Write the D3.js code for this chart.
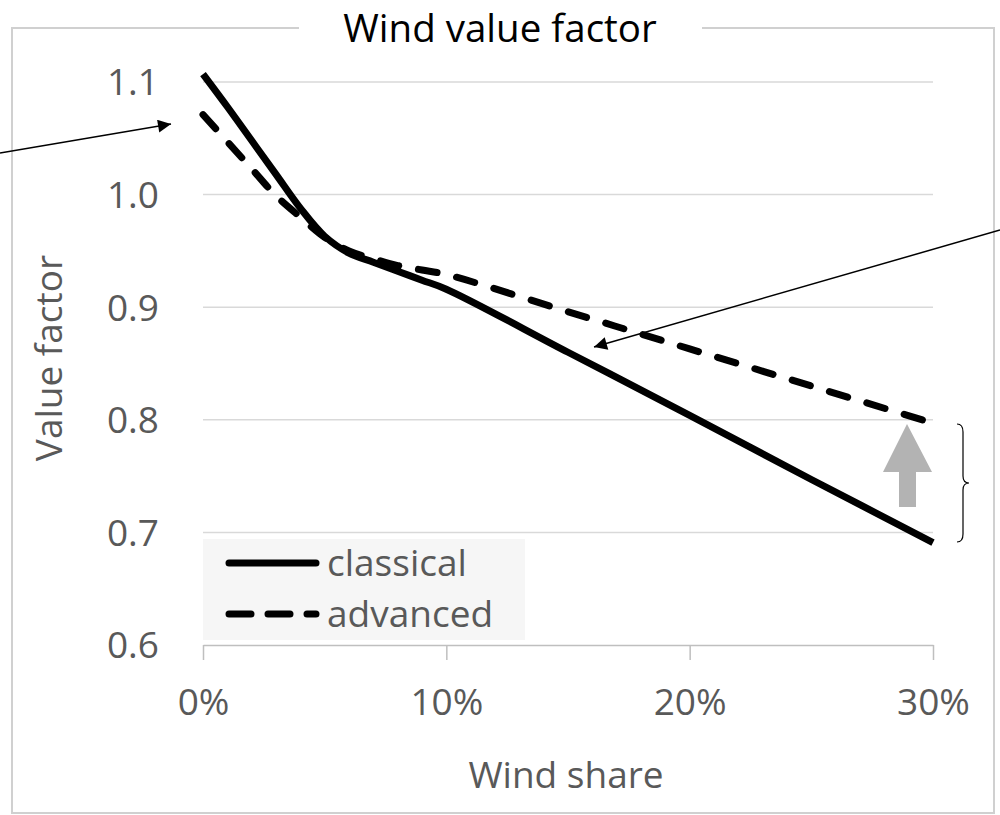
<!DOCTYPE html>
<html>
<head>
<meta charset="utf-8">
<script src="https://cdn.jsdelivr.net/npm/d3@7"></script>
<style>
  body { margin: 0; background: #fff; }
  text { font-family: "Open Sans", sans-serif; }
</style>
</head>
<body>
<div id="chart"></div>
<script>
// wind share (%) and value factors
const share = [0, 1, 2, 3, 4, 5, 6, 7, 8, 9, 10, 15, 20, 25, 30];
const classical = [1.107, 1.078, 1.048, 1.018, 0.988, 0.963, 0.948, 0.940, 0.932, 0.924, 0.916, 0.860, 0.804, 0.747, 0.691];
const advanced = [1.071, 1.047, 1.023, 0.999, 0.980, 0.962, 0.950, 0.943, 0.937, 0.933, 0.929, 0.896, 0.863, 0.830, 0.797];
const yTicks = [0.6, 0.7, 0.8, 0.9, 1.0, 1.1];
const xTicks = [0, 10, 20, 30];
const seriesNames = ["classical", "advanced"];

const W = 1000, H = 815;
const svg = d3.select("#chart").append("svg")
  .attr("width", W).attr("height", H);

const x = d3.scaleLinear().domain([0, 30]).range([203, 933]);
const y = d3.scaleLinear().domain([0.6, 1.1]).range([645, 82]);

// outer frame
svg.append("rect")
  .attr("x", 12).attr("y", 28).attr("width", 982).attr("height", 785)
  .attr("fill", "none").attr("stroke", "#d0d0d0").attr("stroke-width", 2);

// title sits on the frame
svg.append("rect")
  .attr("x", 299).attr("y", 20).attr("width", 403).attr("height", 20)
  .attr("fill", "#fff");
svg.append("text")
  .attr("x", 500).attr("y", 42)
  .attr("text-anchor", "middle")
  .style("font-size", "38.5px").attr("fill", "#000")
  .text("Wind value factor");

// gridlines
svg.append("g").selectAll("line")
  .data(yTicks.slice(1))
  .join("line")
  .attr("x1", x(0)).attr("x2", x(30))
  .attr("y1", d => y(d)).attr("y2", d => y(d))
  .attr("stroke", "#d9d9d9").attr("stroke-width", 1.5);

// y axis labels
svg.append("g").selectAll("text")
  .data(yTicks)
  .join("text")
  .attr("x", 159).attr("y", d => y(d))
  .attr("dy", "0.36em")
  .attr("text-anchor", "end")
  .style("font-size", "37px").attr("fill", "#595959")
  .text(d => d.toFixed(1));

// x axis
const xAxis = svg.append("g").attr("transform", `translate(0,${y(0.6)})`)
  .call(d3.axisBottom(x).tickValues(xTicks).tickSize(15).tickSizeOuter(0).tickFormat(d => d + "%"));
xAxis.select(".domain").attr("stroke", "#bfbfbf").attr("stroke-width", 1.5);
xAxis.selectAll(".tick line").attr("stroke", "#bfbfbf").attr("stroke-width", 1.5);
xAxis.selectAll(".tick text")
  .attr("y", 70).attr("dy", 0)
  .style("font-size", "37px").style("font-family", "Open Sans, sans-serif")
  .attr("fill", "#595959");

// axis titles
svg.append("text")
  .attr("x", 566).attr("y", 788)
  .attr("text-anchor", "middle")
  .style("font-size", "37px").attr("fill", "#595959")
  .text("Wind share");
svg.append("text")
  .attr("transform", "translate(62,358) rotate(-90)")
  .attr("text-anchor", "middle")
  .style("font-size", "37px").attr("fill", "#595959")
  .text("Value factor");

// legend
const lg = svg.append("g");
lg.append("rect")
  .attr("x", 203).attr("y", 539).attr("width", 322).attr("height", 101)
  .attr("fill", "#f6f6f6");
const legendRows = [563, 614];
seriesNames.forEach((name, i) => {
  lg.append("line")
    .attr("x1", 229).attr("x2", 316)
    .attr("y1", legendRows[i]).attr("y2", legendRows[i])
    .attr("stroke", "#000").attr("stroke-width", 7)
    .attr("stroke-linecap", "round")
    .attr("stroke-dasharray", i === 1 ? "22,17" : null);
  lg.append("text")
    .attr("x", 327).attr("y", legendRows[i] + 13)
    .style("font-size", "37px").attr("fill", "#595959")
    .text(name);
});

// series lines
const line = d3.line()
  .x((d, i) => x(share[i]))
  .y(d => y(d))
  .curve(d3.curveCatmullRom.alpha(0.5));

svg.append("path")
  .datum(classical)
  .attr("d", line)
  .attr("fill", "none").attr("stroke", "#000").attr("stroke-width", 7)
  .attr("stroke-linejoin", "round");

svg.append("path")
  .datum(advanced)
  .attr("d", line)
  .attr("fill", "none").attr("stroke", "#000").attr("stroke-width", 7)
  .attr("stroke-linecap", "round")
  .attr("stroke-dasharray", "19,20");

// annotation arrows
const defs = svg.append("defs");
defs.append("marker")
  .attr("id", "head")
  .attr("viewBox", "0 0 10 10")
  .attr("refX", 10).attr("refY", 5)
  .attr("markerWidth", 16).attr("markerHeight", 13)
  .attr("markerUnits", "userSpaceOnUse")
  .attr("orient", "auto")
  .append("path").attr("d", "M0,0L10,5L0,10Z").attr("fill", "#000");

svg.append("line")
  .attr("x1", 0).attr("y1", 153).attr("x2", 171).attr("y2", 124)
  .attr("stroke", "#000").attr("stroke-width", 1.5)
  .attr("marker-end", "url(#head)");

svg.append("line")
  .attr("x1", 1000).attr("y1", 230).attr("x2", 594).attr("y2", 347)
  .attr("stroke", "#000").attr("stroke-width", 1.5)
  .attr("marker-end", "url(#head)");

// grey arrow showing the gap at 30%
svg.append("path")
  .attr("d", "M907,424L932,472L916,472L916,507L899,507L899,472L883,472Z")
  .attr("fill", "#b3b3b3");

// brace
svg.append("path")
  .attr("d", "M957,424Q963,424 963,432L963,476Q963,483 969,483Q963,483 963,490L963,534Q963,542 957,542")
  .attr("fill", "none").attr("stroke", "#000").attr("stroke-width", 1.2);
</script>
</body>
</html>
